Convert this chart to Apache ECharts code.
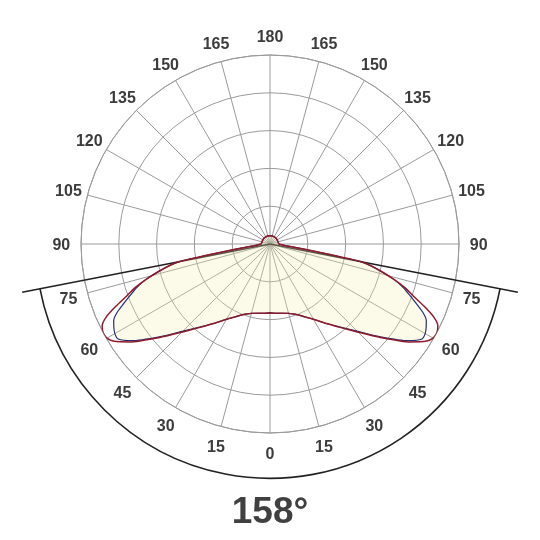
<!DOCTYPE html>
<html>
<head>
<meta charset="utf-8">
<script src="https://cdn.jsdelivr.net/npm/echarts@6/dist/echarts.min.js"></script>
<style>
html, body { margin:0; padding:0; background:#fff; }
#chart { width:540px; height:540px; }
</style>
</head>
<body>
<div id="chart"></div>
<script>
// gamma angles (from nadir) and intensities (cd/klm-ish units)
var angles    = [0, 5, 10, 15, 20, 25, 30, 35, 40, 45, 50, 55, 58, 60, 62, 64, 66, 68, 70, 72, 74, 76, 78, 79, 80, 81, 82, 84, 87, 90, 100, 120, 140, 160, 180];
var redCurve  = [91, 92, 93, 95, 99, 106, 115, 128, 144, 165, 193, 226, 243, 249, 250, 247, 237, 220, 202, 188, 171, 153, 135, 122, 82, 53, 37, 21, 15, 12, 11, 11, 11, 11, 11];
var blueCurve = [91, 92, 93, 95, 99, 106, 115, 128, 143, 163, 191, 223, 237, 237, 234, 230, 221, 208, 196, 185, 171, 153, 135, 122, 82, 53, 37, 21, 15, 12, 11, 11, 11, 11, 11];

// angle tick labels, same on both sides
var tickAngles = [0, 15, 30, 45, 60, 75, 90, 105, 120, 135, 150, 165, 180];

var radiusMax = 250;
var ringStep = 50;
var angleStep = 15;
var labelRadius = [276];

var beamAngle = [158];       // full beam angle shown below the chart
var beamLineLen = [334];     // length of the cut-off lines
var beamArcRadius = [310];   // radius of the black arc

window.fn = {};
// mirror one half-plane onto the other side: value angle a on the left, 360-a on the right
window.fn.mirror = function(vals){
    var out = [];
    for (var i = 0; i < angles.length; i++) out.push([vals[i], angles[i]]);
    for (var j = angles.length - 1; j >= 0; j--) out.push([vals[j], 360 - angles[j]]);
    return out;
};

window.fn.labelData = function(){
    var out = [];
    tickAngles.forEach(function(a){
        out.push([labelRadius[0], a, a]);
        if (a > 0 && a < 180) out.push([labelRadius[0], 360 - a, a]);
    });
    return out;
};

var half = beamAngle[0] / 2;

var chart = echarts.init(document.getElementById('chart'));
chart.setOption({
    animation: false,
    title: {
        text: beamAngle[0] + '°',
        left: 'center',
        top: 489,
        textStyle: { fontFamily: 'Liberation Sans', fontWeight: 'bold', fontSize: 37, color: '#404040' }
    },
    polar: { center: [270, 244], radius: 189 },
    angleAxis: {
        type: 'value',
        min: 0,
        max: 360,
        interval: angleStep,
        startAngle: 270,
        clockwise: true,
        axisLine: { show: true, lineStyle: { color: '#9a9a9a', width: 1 } },
        axisTick: { show: false },
        splitLine: { show: true, lineStyle: { color: '#9a9a9a', width: 1 } },
        axisLabel: { show: false }
    },
    radiusAxis: {
        min: 0,
        max: radiusMax,
        interval: ringStep,
        axisLine: { show: false },
        axisTick: { show: false },
        axisLabel: { show: false },
        splitLine: { show: true, lineStyle: { color: '#9a9a9a', width: 1 } }
    },
    series: [
        {
            // beam angle marker: two cut-off lines and the arc between them
            type: 'custom',
            coordinateSystem: 'polar',
            data: [[beamArcRadius[0], half]],
            silent: true,
            z: 1,
            renderItem: function(params, api){
                var c = api.coord([0, 0]);
                var pL = api.coord([beamArcRadius[0], half]);
                var pR = api.coord([beamArcRadius[0], 360 - half]);
                var eL = api.coord([beamLineLen[0], half]);
                var eR = api.coord([beamLineLen[0], 360 - half]);
                var r = Math.sqrt((pL[0]-c[0])*(pL[0]-c[0]) + (pL[1]-c[1])*(pL[1]-c[1]));
                var st = { stroke: '#222', lineWidth: 1.6, fill: null };
                return {
                    type: 'group',
                    children: [
                        { type: 'line', shape: { x1: c[0], y1: c[1], x2: eL[0], y2: eL[1] }, style: st },
                        { type: 'line', shape: { x1: c[0], y1: c[1], x2: eR[0], y2: eR[1] }, style: st },
                        {
                            type: 'arc',
                            shape: {
                                cx: c[0], cy: c[1], r: r,
                                startAngle: Math.atan2(pR[1]-c[1], pR[0]-c[0]),
                                endAngle: Math.atan2(pL[1]-c[1], pL[0]-c[0]),
                                clockwise: true
                            },
                            style: st
                        }
                    ]
                };
            }
        },
        {
            // angle labels centred on a circle outside the grid
            type: 'custom',
            coordinateSystem: 'polar',
            data: fn.labelData(),
            silent: true,
            z: 2,
            renderItem: function(params, api){
                var p = api.coord([api.value(0), api.value(1)]);
                return {
                    type: 'text',
                    x: p[0],
                    y: p[1] + 2,
                    style: {
                        text: String(api.value(2)),
                        align: 'center',
                        verticalAlign: 'middle',
                        font: 'bold 16px "Liberation Sans"',
                        fill: '#3c3c3c'
                    }
                };
            }
        },
        {
            type: 'line',
            coordinateSystem: 'polar',
            data: fn.mirror(blueCurve),
            symbol: 'none',
            smooth: 0.2,
            z: 3,
            lineStyle: { color: '#262d73', width: 1.2 },
            areaStyle: { color: 'rgba(245,236,170,0.38)' }
        },
        {
            type: 'line',
            coordinateSystem: 'polar',
            data: fn.mirror(redCurve),
            symbol: 'none',
            smooth: 0.2,
            z: 4,
            lineStyle: { color: '#8e1b2b', width: 1.5 }
        }
    ]
});
</script>
</body>
</html>
